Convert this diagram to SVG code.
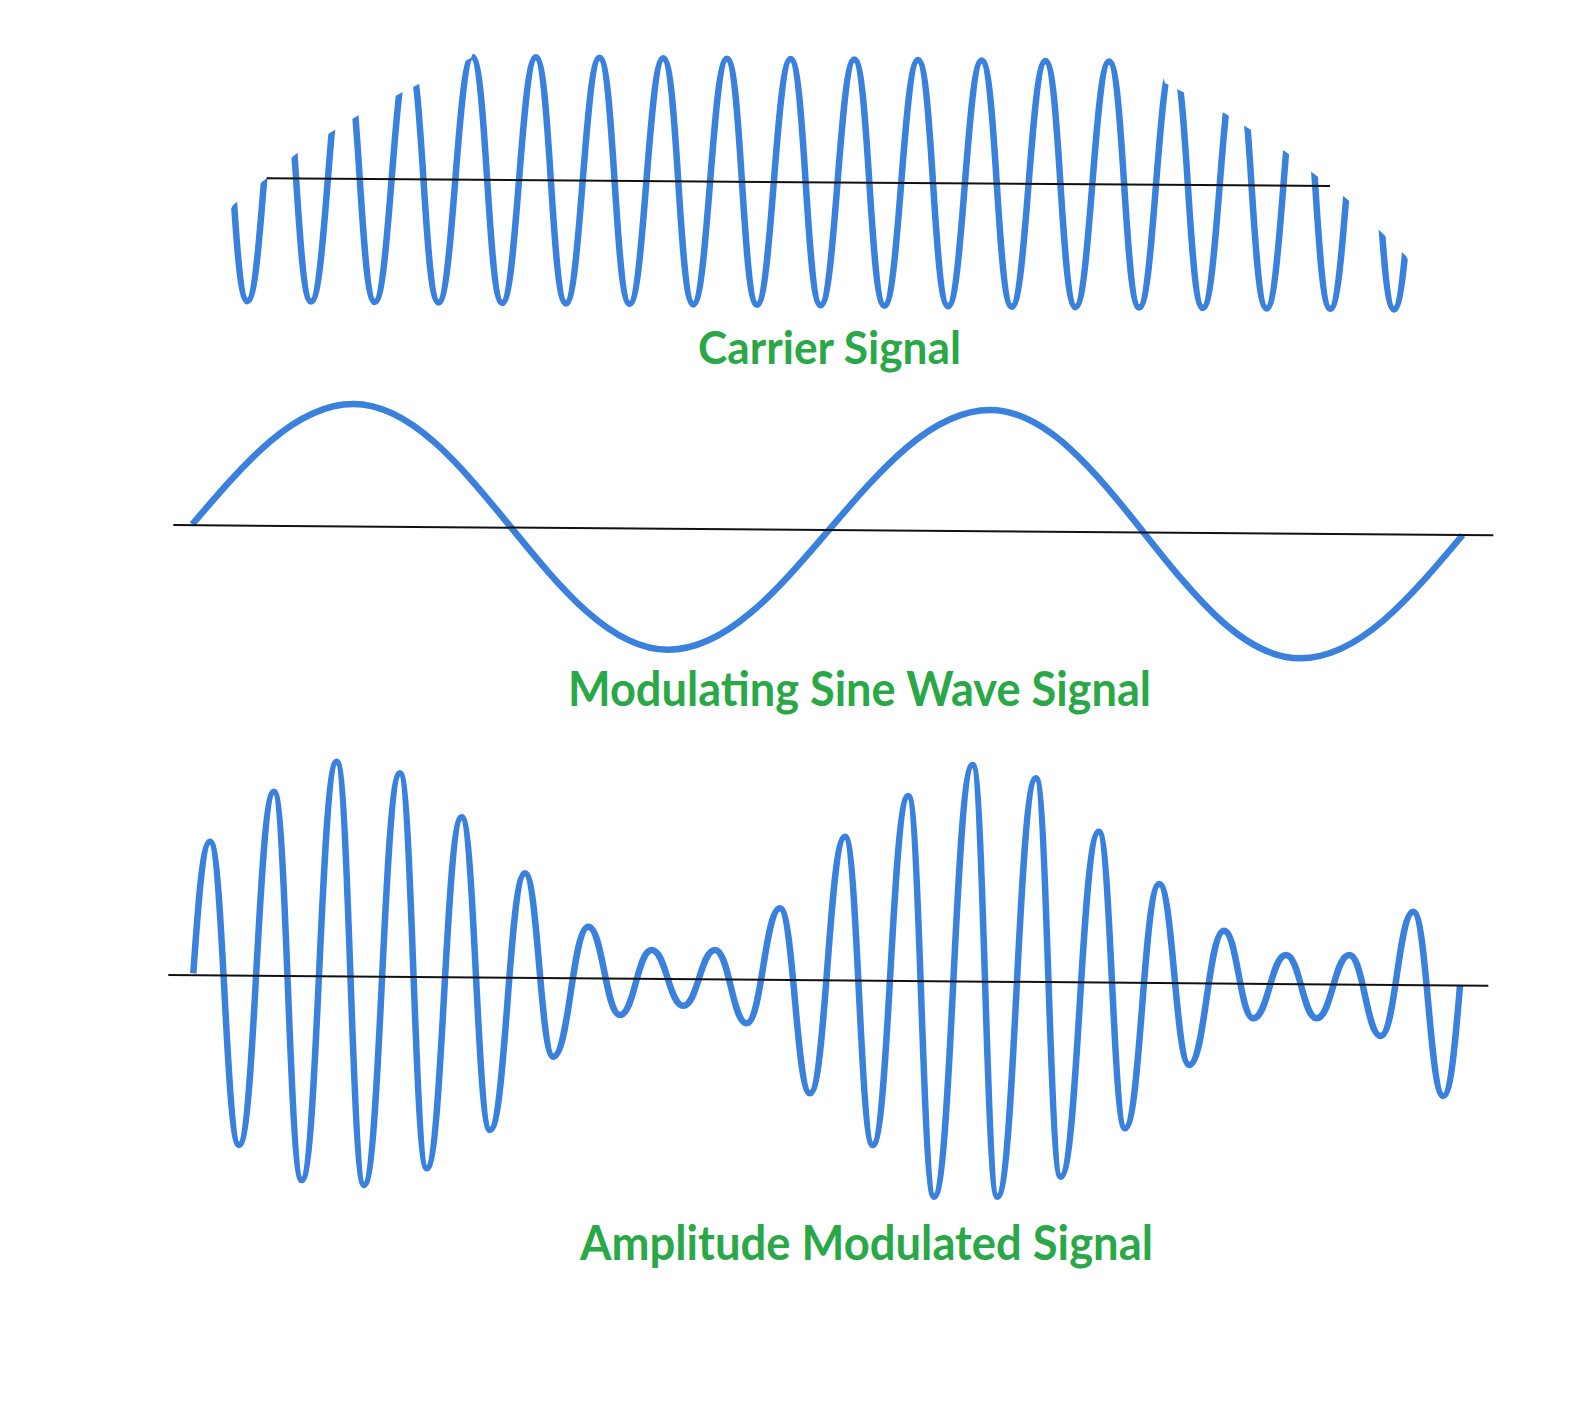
<svg xmlns="http://www.w3.org/2000/svg" width="1587" height="1401" viewBox="0 0 1587 1401">
<style>
.wave{fill:none;stroke:#3a80dd;stroke-width:6.5;stroke-linejoin:round;stroke-linecap:butt}
.axis{fill:none;stroke:#111;stroke-width:2}
.lbl{font-family:Lato,"Open Sans","Liberation Sans",sans-serif;font-weight:700;fill:#2aa848}
</style>
<defs>
<clipPath id="carrierClip" clipPathUnits="userSpaceOnUse">
<polygon points="215,240 233,205 267,178 296,154 333,131 357,116 401,93 419,84 471,58 495,0 1135,0 1165,83 1181,91 1226,114 1248,128 1286,152 1313,173 1347,199 1379,230 1406,256 1430,300 1430,340 215,340"/>
</clipPath>
</defs>
<rect width="1587" height="1401" fill="#fff"/>
<g id="carrier">
<g clip-path="url(#carrierClip)">
<path class="wave" transform="rotate(0.415 266.7 178.3)" d="M216.45,55.3 c14.33,0 17.52,246 31.85,246 c14.33,0 17.52,-246 31.85,-246 c14.33,0 17.52,246 31.85,246 c14.33,0 17.52,-246 31.85,-246 c14.33,0 17.52,246 31.85,246 c14.33,0 17.52,-246 31.85,-246 c14.33,0 17.52,246 31.85,246 c14.33,0 17.52,-246 31.85,-246 c14.33,0 17.52,246 31.85,246 c14.33,0 17.52,-246 31.85,-246 c14.33,0 17.52,246 31.85,246 c14.33,0 17.52,-246 31.85,-246 c14.33,0 17.52,246 31.85,246 c14.33,0 17.52,-246 31.85,-246 c14.33,0 17.52,246 31.85,246 c14.33,0 17.52,-246 31.85,-246 c14.33,0 17.52,246 31.85,246 c14.33,0 17.52,-246 31.85,-246 c14.33,0 17.52,246 31.85,246 c14.33,0 17.52,-246 31.85,-246 c14.33,0 17.52,246 31.85,246 c14.33,0 17.52,-246 31.85,-246 c14.33,0 17.52,246 31.85,246 c14.33,0 17.52,-246 31.85,-246 c14.33,0 17.52,246 31.85,246 c14.33,0 17.52,-246 31.85,-246 c14.33,0 17.52,246 31.85,246 c14.33,0 17.52,-246 31.85,-246 c14.33,0 17.52,246 31.85,246 c14.33,0 17.52,-246 31.85,-246 c14.33,0 17.52,246 31.85,246 c14.33,0 17.52,-246 31.85,-246 c14.33,0 17.52,246 31.85,246 c14.33,0 17.52,-246 31.85,-246 c14.33,0 17.52,246 31.85,246 c14.33,0 17.52,-246 31.85,-246 c14.33,0 17.52,246 31.85,246 c14.33,0 17.52,-246 31.85,-246"/>
</g>
<line class="axis" x1="266.7" y1="178.3" x2="1330" y2="186"/>
<text class="lbl" x="698" y="363.5" font-size="46" textLength="263" lengthAdjust="spacingAndGlyphs">Carrier Signal</text>
</g>
<g id="modulating">
<path class="wave" d="M192.3,524.3 C244.8,462.7 295,404 353.3,404 C467.7,404 553.6,649.8 668,649.8 C785,649.8 873,410 990,410 C1102.7,410 1187.3,658.3 1300,658.3 C1358.9,658.3 1409.6,598.2 1462.7,535"/>
<line class="axis" x1="173.3" y1="525" x2="1493.3" y2="535.3"/>
<text class="lbl" x="568" y="706" font-size="48" textLength="583" lengthAdjust="spacingAndGlyphs">Modulating Sine Wave Signal</text>
</g>
<g id="am">
<path class="wave" d="M193.3,973.3 C197.89,907.5 202.49,841.7 210,841.7 C223.05,841.7 225.95,1145 239,1145 C254.75,1145 258.25,791.7 274,791.7 C286.47,791.7 289.23,1180 301.7,1180 C317.45,1180 320.95,761.7 336.7,761.7 C348.99,761.7 351.71,1185 364,1185 C380.2,1185 383.8,773.3 400,773.3 C412.02,773.3 414.68,1168.3 426.7,1168.3 C442.45,1168.3 445.95,817.3 461.7,817.3 C474.44,817.3 477.26,1130 490,1130 C505.75,1130 509.25,873.3 525,873.3 C537.74,873.3 540.56,1056.7 553.3,1056.7 C569.05,1056.7 572.55,926.7 588.3,926.7 C602.57,926.7 605.73,1015 620,1015 C634.27,1015 637.43,950 651.7,950 C665.92,950 669.08,1005.7 683.3,1005.7 C697.57,1005.7 700.73,950 715,950 C729.27,950 732.43,1023.3 746.7,1023.3 C761.69,1023.3 765.01,908.3 780,908.3 C793.5,908.3 796.5,1093.3 810,1093.3 C825.75,1093.3 829.25,836.7 845,836.7 C857.47,836.7 860.23,1145 872.7,1145 C888.72,1145 892.28,796 908.3,796 C919.87,796 922.43,1196.7 934,1196.7 C951.42,1196.7 955.28,765 972.7,765 C983.77,765 986.23,1196.7 997.3,1196.7 C1014.72,1196.7 1018.58,778.3 1036,778.3 C1047.12,778.3 1049.58,1176.7 1060.7,1176.7 C1077.85,1176.7 1081.65,831.7 1098.8,831.7 C1110.59,831.7 1113.21,1128.3 1125,1128.3 C1140.44,1128.3 1143.86,884 1159.3,884 C1172.8,884 1175.8,1065 1189.3,1065 C1204.92,1065 1208.38,930.7 1224,930.7 C1237.19,930.7 1240.11,1018.3 1253.3,1018.3 C1268.02,1018.3 1271.28,955 1286,955 C1299.82,955 1302.88,1018.3 1316.7,1018.3 C1331.37,1018.3 1334.63,955 1349.3,955 C1363.43,955 1366.57,1036 1380.7,1036 C1395.37,1036 1398.63,911.7 1413.3,911.7 C1426.8,911.7 1429.8,1096 1443.3,1096 C1450.82,1096 1455.41,1040.85 1460,985.7"/>
<line class="axis" x1="168.3" y1="975" x2="1488.3" y2="985.7"/>
<text class="lbl" x="580" y="1260" font-size="48" textLength="573" lengthAdjust="spacingAndGlyphs">Amplitude Modulated Signal</text>
</g>
</svg>
